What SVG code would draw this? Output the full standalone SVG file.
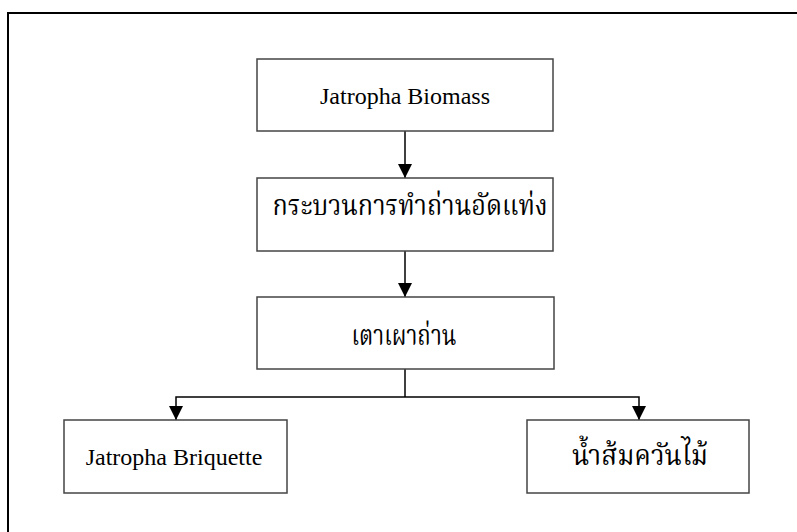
<svg xmlns="http://www.w3.org/2000/svg" width="797" height="532" viewBox="0 0 797 532">
  <style>
    .box { fill: #ffffff; stroke: #444444; stroke-width: 1.5; }
    .lat { font-family: "Liberation Serif", "Times New Roman", serif; font-size: 24px; fill: #000; text-anchor: middle; }
    .thai { font-family: "Liberation Serif", "Noto Serif Thai", "Noto Sans Thai", "Tlwg Typo", serif; font-size: 28px; fill: #000; text-anchor: middle; }
    .wire { fill: none; stroke: #000; stroke-width: 1.5; }
  </style>
  <defs>
    <marker id="arrow" markerUnits="userSpaceOnUse" markerWidth="16" markerHeight="14" refX="14" refY="7" orient="auto">
      <path d="M0,0 L14,7 L0,14 Z" fill="#000"/>
    </marker>
  </defs>

  <rect width="797" height="532" fill="#ffffff"/>
  <!-- outer frame (open on the right and bottom) -->
  <path d="M8,532 V13 H797" fill="none" stroke="#000" stroke-width="2"/>

  <g id="connectors">
    <path class="wire" d="M405,131 V178" marker-end="url(#arrow)"/>
    <path class="wire" d="M405,251 V297" marker-end="url(#arrow)"/>
    <path class="wire" d="M405,369 V397"/>
    <path class="wire" d="M405,397 H176 V420" marker-end="url(#arrow)"/>
    <path class="wire" d="M405,397 H639 V420" marker-end="url(#arrow)"/>
  </g>

  <g id="biomass">
    <rect class="box" x="257" y="59" width="296" height="72"/>
    <text class="lat" x="405" y="104">Jatropha Biomass</text>
  </g>

  <g id="process">
    <rect class="box" x="257" y="178" width="296" height="73"/>
    <text class="thai" x="410" y="215" textLength="275" lengthAdjust="spacingAndGlyphs">กระบวนการทำถ่านอัดแท่ง</text>
  </g>

  <g id="kiln">
    <rect class="box" x="257" y="297" width="297" height="72"/>
    <text class="thai" x="404" y="345" textLength="105" lengthAdjust="spacingAndGlyphs">เตาเผาถ่าน</text>
  </g>

  <g id="briquette">
    <rect class="box" x="64" y="420" width="223" height="73"/>
    <text class="lat" x="174" y="465">Jatropha Briquette</text>
  </g>

  <g id="vinegar">
    <rect class="box" x="527" y="420" width="222" height="73"/>
    <text class="thai" x="640" y="465" textLength="136" lengthAdjust="spacingAndGlyphs">น้ำส้มควันไม้</text>
  </g>
</svg>
